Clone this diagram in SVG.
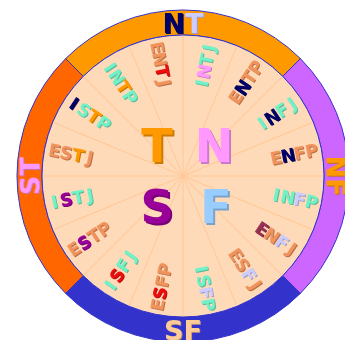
<svg xmlns="http://www.w3.org/2000/svg" width="345" height="340" viewBox="0 0 345 340">
<defs>
<style>
text{font-family:"DejaVu Sans","Liberation Sans",sans-serif;font-weight:bold;text-anchor:middle}
.lb text{font-size:17.5px}
.big{font-size:46px}
.rl{font-size:27px}
.seg{stroke:#3333CC;stroke-width:1}
.sp{stroke:#FFC896;stroke-width:1}
.e{fill:#F0935C}.i{fill:#72F0C6}.nv{fill:#000066}.pk{fill:#FF99FF}.rd{fill:#EE1111}
.or{fill:#FF9900}.pu{fill:#990099}.lv{fill:#CCCCFF}.mr{fill:#993355}.bl{fill:#99CCFF}.pe{fill:#FFCC99}
</style>
<filter id="sh" x="-5%" y="-5%" width="110%" height="110%">
<feColorMatrix in="SourceGraphic" type="matrix" values="0.55 0 0 0 0 0 0.55 0 0 0 0 0 0.55 0 0 0 0 0 1 0" result="d"/>
<feOffset in="d" dx="1.2" dy="1.2" result="o"/>
<feMerge><feMergeNode in="o"/><feMergeNode in="SourceGraphic"/></feMerge>
</filter>
<filter id="sh2" x="-5%" y="-5%" width="110%" height="110%">
<feColorMatrix in="SourceGraphic" type="matrix" values="0.6 0 0 0 0 0 0.6 0 0 0 0 0 0.6 0 0 0 0 0 1 0" result="d"/>
<feOffset in="d" dx="1.8" dy="1.8" result="o"/>
<feMerge><feMergeNode in="o"/><feMergeNode in="SourceGraphic"/></feMerge>
</filter>
</defs>
<g id="ring">
<path id="seg-NT" class="seg" fill="#FF9900" d="M65.62,58.62 A166,166 0 0 1 300.38,58.62 L282.70,76.30 A141,141 0 0 0 83.30,76.30 Z"/>
<path id="seg-NF" class="seg" fill="#CC66FF" d="M300.38,58.62 A166,166 0 0 1 300.38,293.38 L282.70,275.70 A141,141 0 0 0 282.70,76.30 Z"/>
<path id="seg-SF" class="seg" fill="#3333CC" d="M300.38,293.38 A166,166 0 0 1 65.62,293.38 L83.30,275.70 A141,141 0 0 0 282.70,275.70 Z"/>
<path id="seg-ST" class="seg" fill="#FF6600" d="M65.62,293.38 A166,166 0 0 1 65.62,58.62 L83.30,76.30 A141,141 0 0 0 83.30,275.70 Z"/>
</g>
<circle id="disk" cx="183" cy="176" r="141" fill="#FFDAB9" stroke="#3333CC" stroke-width="1"/>
<g id="spokes" transform="translate(183,176)">
<line class="sp" x1="-140" y1="0" x2="140" y2="0"/>
<line class="sp" x1="-140" y1="0" x2="140" y2="0" transform="rotate(22.5)"/>
<line class="sp" x1="-140" y1="0" x2="140" y2="0" transform="rotate(45)"/>
<line class="sp" x1="-140" y1="0" x2="140" y2="0" transform="rotate(67.5)"/>
<line class="sp" x1="-140" y1="0" x2="140" y2="0" transform="rotate(90)"/>
<line class="sp" x1="-140" y1="0" x2="140" y2="0" transform="rotate(112.5)"/>
<line class="sp" x1="-140" y1="0" x2="140" y2="0" transform="rotate(135)"/>
<line class="sp" x1="-140" y1="0" x2="140" y2="0" transform="rotate(157.5)"/>
</g>
<g id="ring-labels" filter="url(#sh)">
<g id="NT"><text class="rl" x="183" y="32.5"><tspan class="nv">N</tspan><tspan class="lv">T</tspan></text></g>
<g id="NF" transform="translate(326.5,176) rotate(90)"><text class="rl or" x="0" y="0">NF</text></g>
<g id="SF"><text class="rl pe" x="183" y="339.5">SF</text></g>
<g id="ST" transform="translate(39.5,176) rotate(-90)"><text class="rl pk" x="0" y="0">ST</text></g>
</g>
<g id="types" class="lb" filter="url(#sh)">
<g id="INTJ" transform="translate(183,176) rotate(-78.75)"><text class="i" x="95" y="6.4">I</text><text class="pk" x="107" y="6.4">N</text><text class="i" x="119" y="6.4">T</text><text class="i" x="131" y="6.4">J</text></g>
<g id="ENTP" transform="translate(183,176) rotate(-56.25)"><text class="e" x="95" y="6.4">E</text><text class="nv" x="107" y="6.4">N</text><text class="e" x="119" y="6.4">T</text><text class="e" x="131" y="6.4">P</text></g>
<g id="INFJ" transform="translate(183,176) rotate(-33.75)"><text class="i" x="95" y="6.4">I</text><text class="nv" x="107" y="6.4">N</text><text class="i" x="119" y="6.4">F</text><text class="i" x="131" y="6.4">J</text></g>
<g id="ENFP" transform="translate(183,176) rotate(-11.25)"><text class="e" x="95" y="6.4">E</text><text class="nv" x="107" y="6.4">N</text><text class="e" x="119" y="6.4">F</text><text class="e" x="131" y="6.4">P</text></g>
<g id="INFP" transform="translate(183,176) rotate(11.25)"><text class="i" x="95" y="6.4">I</text><text class="i" x="107" y="6.4">N</text><text class="lv" x="119" y="6.4">F</text><text class="i" x="131" y="6.4">P</text></g>
<g id="ENFJ" transform="translate(183,176) rotate(33.75)"><text class="mr" x="95" y="6.4">E</text><text class="e" x="107" y="6.4">N</text><text class="lv" x="119" y="6.4">F</text><text class="e" x="131" y="6.4">J</text></g>
<g id="ESFJ" transform="translate(183,176) rotate(56.25)"><text class="e" x="95" y="6.4">E</text><text class="e" x="107" y="6.4">S</text><text class="lv" x="119" y="6.4">F</text><text class="e" x="131" y="6.4">J</text></g>
<g id="ISFP" transform="translate(183,176) rotate(78.75)"><text class="i" x="95" y="6.4">I</text><text class="i" x="107" y="6.4">S</text><text class="lv" x="119" y="6.4">F</text><text class="i" x="131" y="6.4">P</text></g>
<g id="ESFP" transform="translate(183,176) rotate(-78.75)"><text class="e" x="-131" y="6.4">E</text><text class="rd" x="-119" y="6.4">S</text><text class="e" x="-107" y="6.4">F</text><text class="e" x="-95" y="6.4">P</text></g>
<g id="ISFJ" transform="translate(183,176) rotate(-56.25)"><text class="i" x="-131" y="6.4">I</text><text class="rd" x="-119" y="6.4">S</text><text class="i" x="-107" y="6.4">F</text><text class="i" x="-95" y="6.4">J</text></g>
<g id="ESTP" transform="translate(183,176) rotate(-33.75)"><text class="e" x="-131" y="6.4">E</text><text class="pu" x="-119" y="6.4">S</text><text class="e" x="-107" y="6.4">T</text><text class="e" x="-95" y="6.4">P</text></g>
<g id="ISTJ" transform="translate(183,176) rotate(-11.25)"><text class="i" x="-131" y="6.4">I</text><text class="pu" x="-119" y="6.4">S</text><text class="i" x="-107" y="6.4">T</text><text class="i" x="-95" y="6.4">J</text></g>
<g id="ESTJ" transform="translate(183,176) rotate(11.25)"><text class="e" x="-131" y="6.4">E</text><text class="e" x="-119" y="6.4">S</text><text class="or" x="-107" y="6.4">T</text><text class="e" x="-95" y="6.4">J</text></g>
<g id="ISTP" transform="translate(183,176) rotate(33.75)"><text class="nv" x="-131" y="6.4">I</text><text class="i" x="-119" y="6.4">S</text><text class="or" x="-107" y="6.4">T</text><text class="i" x="-95" y="6.4">P</text></g>
<g id="INTP" transform="translate(183,176) rotate(56.25)"><text class="i" x="-131" y="6.4">I</text><text class="i" x="-119" y="6.4">N</text><text class="or" x="-107" y="6.4">T</text><text class="i" x="-95" y="6.4">P</text></g>
<g id="ENTJ" transform="translate(183,176) rotate(78.75)"><text class="e" x="-131" y="6.4">E</text><text class="e" x="-119" y="6.4">N</text><text class="rd" x="-107" y="6.4">T</text><text class="e" x="-95" y="6.4">J</text></g>
</g>
<g id="center-letters" filter="url(#sh2)">
<g id="T"><text class="big or" x="157" y="162">T</text></g>
<g id="N"><text class="big pk" x="214" y="162">N</text></g>
<g id="S"><text class="big pu" x="157" y="223">S</text></g>
<g id="F"><text class="big bl" x="216" y="223">F</text></g>
</g>
</svg>
